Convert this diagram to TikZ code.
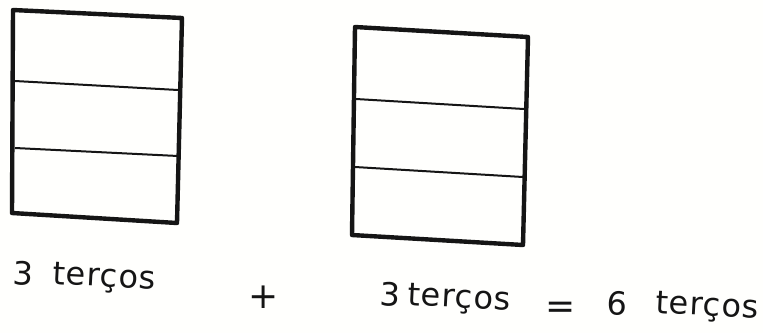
\documentclass[tikz,border=0pt]{standalone}
\usepackage{fontspec}
\usepackage{tikz}
\usetikzlibrary{positioning}
\newfontfamily\handfont[LetterSpace=3]{DejaVu Sans}
\newfontfamily\signfont{DejaVu Sans}
\definecolor{inkblack}{HTML}{151515}
\definecolor{paperwhite}{HTML}{FFFFFD}

\begin{document}
\begin{tikzpicture}[
  x=1pt,y=-1pt,
  frame/.style={draw=inkblack,line width=4.4pt,line join=round},
  divider/.style={draw=inkblack,line width=2pt},
  hand/.style={inner sep=0pt,anchor=base west,rotate=-3,text=inkblack,font=\handfont\fontsize{32}{35}\selectfont},
  sign/.style={inner sep=0pt,text=inkblack,font=\signfont\fontsize{36}{38}\selectfont}
]
\useasboundingbox[fill=paperwhite] (0,0) rectangle (763,333);
% first sheet, cut in three
\coordinate (a1) at (13,10);
\coordinate (a2) at (182,18);
\coordinate (a3) at (177,223);
\coordinate (a4) at (12,213);
\draw[divider] (15,81) -- (178,90);
\draw[divider] (15,148) -- (178,156);
\draw[frame] (a1) -- (a2) -- (a3) -- (a4) -- cycle;
% second sheet
\coordinate (b1) at (355,27);
\coordinate (b2) at (528,37);
\coordinate (b3) at (523,245);
\coordinate (b4) at (352,235);
\draw[divider] (356,99) -- (524,109);
\draw[divider] (355,167) -- (523,177);
\draw[frame] (b1) -- (b2) -- (b3) -- (b4) -- cycle;
% sums
\node[hand] (numA) at (12,284) {3};
\node[hand] (wordA) at (52,284) {terços};
\node[sign] (plus) at (264,297) {+};
\node[hand] (numB) at (379,305) {3};
\node[hand] (wordB) at (407,305) {terços};
\node[sign] (eq) at (561,310) {=};
\node[hand] (numC) at (606,314) {6};
\node[hand] (wordC) at (655,313) {terços};
\end{tikzpicture}
\end{document}
